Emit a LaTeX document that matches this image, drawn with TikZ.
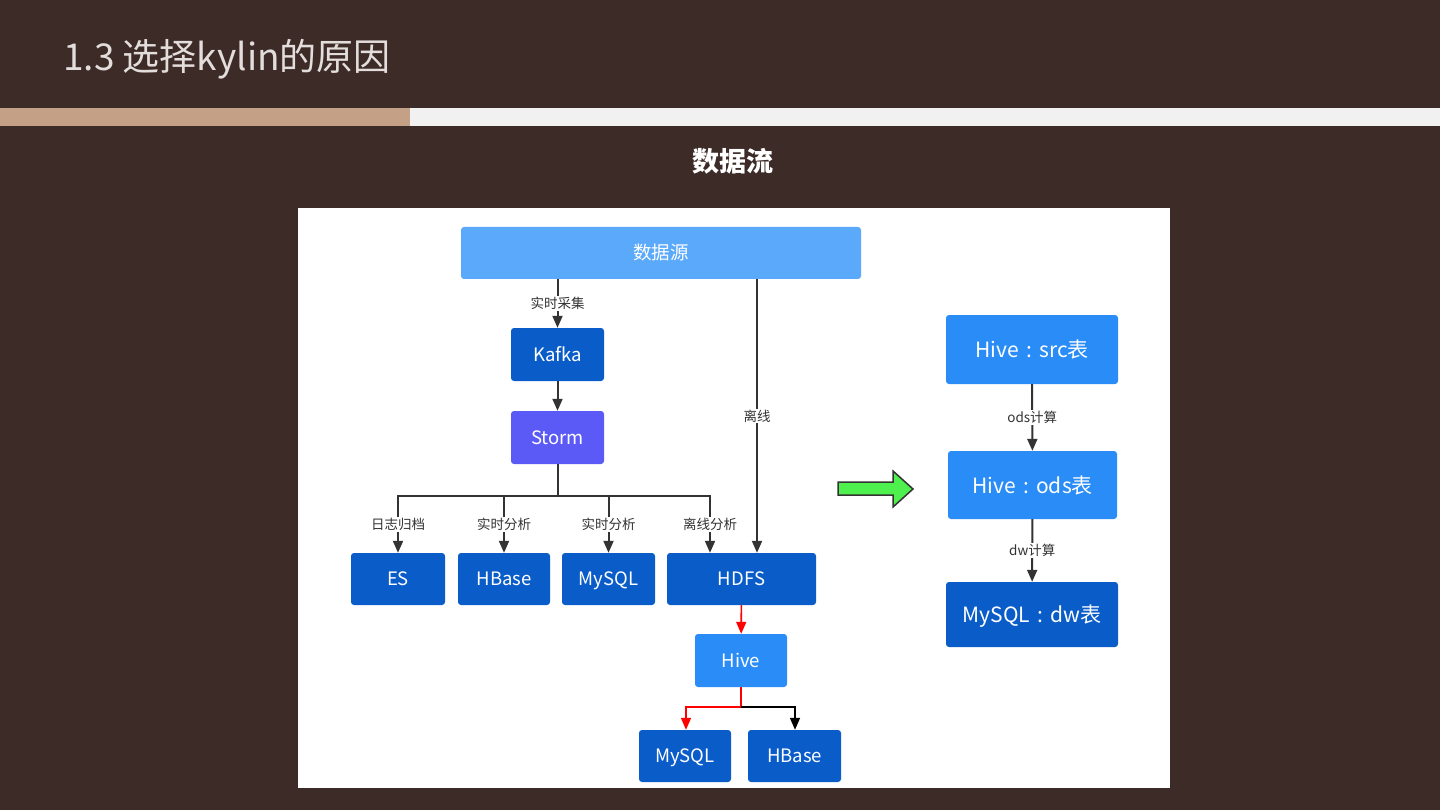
\documentclass[tikz,border=0pt]{standalone}
\usepackage{fontspec}
\setmainfont{Noto Sans CJK SC}
\usetikzlibrary{arrows.meta}

\definecolor{bgbrown}{HTML}{3D2B28}
\definecolor{titlegray}{HTML}{E3DEDC}
\definecolor{stripetan}{HTML}{C4A087}
\definecolor{stripegray}{HTML}{F1F1F1}
\definecolor{srcblue}{HTML}{5AA9FB}
\definecolor{darkblue}{HTML}{0A5CC9}
\definecolor{stormpurple}{HTML}{5B5AF6}
\definecolor{hiveblue}{HTML}{2A8CF7}
\definecolor{linegray}{HTML}{333333}
\definecolor{arrowgreen}{HTML}{4DF04D}

\newcommand{\tcolon}{\hspace{0.35em}:\hspace{0.35em}}

\begin{document}
\begin{tikzpicture}[x=1pt,y=-1pt,
        box/.style={rounded corners=3pt, text=white, inner sep=0pt, text height=13.6pt, text depth=0pt,
            font=\fontsize{18.5}{20}\selectfont},
        bigbox/.style={box, minimum width=172pt, text height=16pt, font=\fontsize{21}{24}\selectfont},
        lbl/.style={fill=white, text=linegray, inner sep=1pt, font=\fontsize{13.5}{15}\selectfont},
        conn/.style={line width=2pt, draw=linegray},
        arr/.style={conn, -{Triangle[length=12pt,width=10pt]}}]
    \useasboundingbox (0,0) rectangle (1440,810);

    % slide background, title and stripe
    \fill[bgbrown] (0,0) rectangle (1440,810);
    \node[anchor=base west, text=titlegray, inner sep=0pt, font=\fontsize{37}{40}\selectfont] (title) at (63,71) {1.3 选择kylin的原因};
    \fill[stripetan] (0,108) rectangle (410,126);
    \fill[stripegray] (410,108) rectangle (1440,126);
    \node[text=white, font=\bfseries\fontsize{27}{30}\selectfont] (flow) at (733,161) {数据流};
    \fill[white] (298,208) rectangle (1170,788);

    % left data flow
    \node[box, fill=srcblue, minimum width=400pt, minimum height=52pt] (src) at (661,253) {数据源};
    \node[box, fill=darkblue, minimum width=93pt, minimum height=53pt] (kafka) at (557.5,354.5) {Kafka};
    \node[box, fill=stormpurple, minimum width=93pt, minimum height=53pt] (storm) at (557.5,437.5) {Storm};

    \node[box, fill=darkblue, minimum width=94pt, minimum height=52pt] (es) at (398,579) {ES};
    \node[box, fill=darkblue, minimum width=92pt, minimum height=52pt] (hbase) at (504,579) {HBase};
    \node[box, fill=darkblue, minimum width=93pt, minimum height=52pt] (mysql) at (608.5,579) {MySQL};
    \node[box, fill=darkblue, minimum width=149pt, minimum height=52pt] (hdfs) at (741.5,579) {HDFS};

    \node[box, fill=hiveblue, minimum width=92pt, minimum height=53pt] (hive) at (741,660.5) {Hive};
    \node[box, fill=darkblue, minimum width=92pt, minimum height=52pt] (mysqlb) at (685,756) {MySQL};
    \node[box, fill=darkblue, minimum width=93pt, minimum height=52pt] (hbaseb) at (794.5,756) {HBase};

    \coordinate (offline) at (757,0);
    \coordinate (split) at (557.5,496);
    \coordinate (hsplit) at (741,707);

    \draw[arr] (src.south -| kafka) -- node[lbl] {实时采集} (kafka);
    \draw[arr] (kafka) -- (storm);
    \draw[arr] (src.south -| offline) -- node[lbl] {离线} (hdfs.north -| offline);
    \draw[conn] (storm) -- (split);
    \draw[arr] (split) -| node[lbl, pos=0.75] {日志归档} (es);
    \draw[arr] (split) -| node[lbl, pos=0.75] {实时分析} (hbase);
    \draw[arr] (split) -| node[lbl, pos=0.75] {实时分析} (mysql);
    \draw[arr] (split) -| node[lbl, pos=0.75] {离线分析} ([xshift=-31.5pt]hdfs.north);

    \draw[arr, draw=red, line width=1.6pt] (hdfs) -- (hive);
    \draw[conn, draw=red, line width=1.6pt] (hive) -- (hsplit);
    \draw[arr, draw=red, line width=1.6pt] (hsplit) -| (mysqlb.north -| 686,0);
    \draw[arr, draw=black, line width=1.6pt] (hsplit) -| (hbaseb.north -| 795,0);

    % green arrow
    \draw[fill=arrowgreen, draw=linegray, line width=1.5pt, line join=miter]
        (838,482) -- (893,482) -- (893,471) -- (913,489) -- (893,507) -- (893,495) -- (838,495) -- cycle;

    % right data flow
    \node[bigbox, fill=hiveblue, minimum height=69pt] (hsrc) at (1032,349.5) {Hive\tcolon src表};
    \node[bigbox, fill=hiveblue, minimum width=169pt, minimum height=68pt] (hods) at (1032.5,485) {Hive\tcolon ods表};
    \node[bigbox, fill=darkblue, minimum height=65pt] (mdw) at (1032,614.5) {MySQL\tcolon dw表};

    \draw[arr] (hsrc) -- node[lbl] {ods计算} (hods);
    \draw[arr] (hods) -- node[lbl] {dw计算} (mdw);
\end{tikzpicture}
\end{document}
